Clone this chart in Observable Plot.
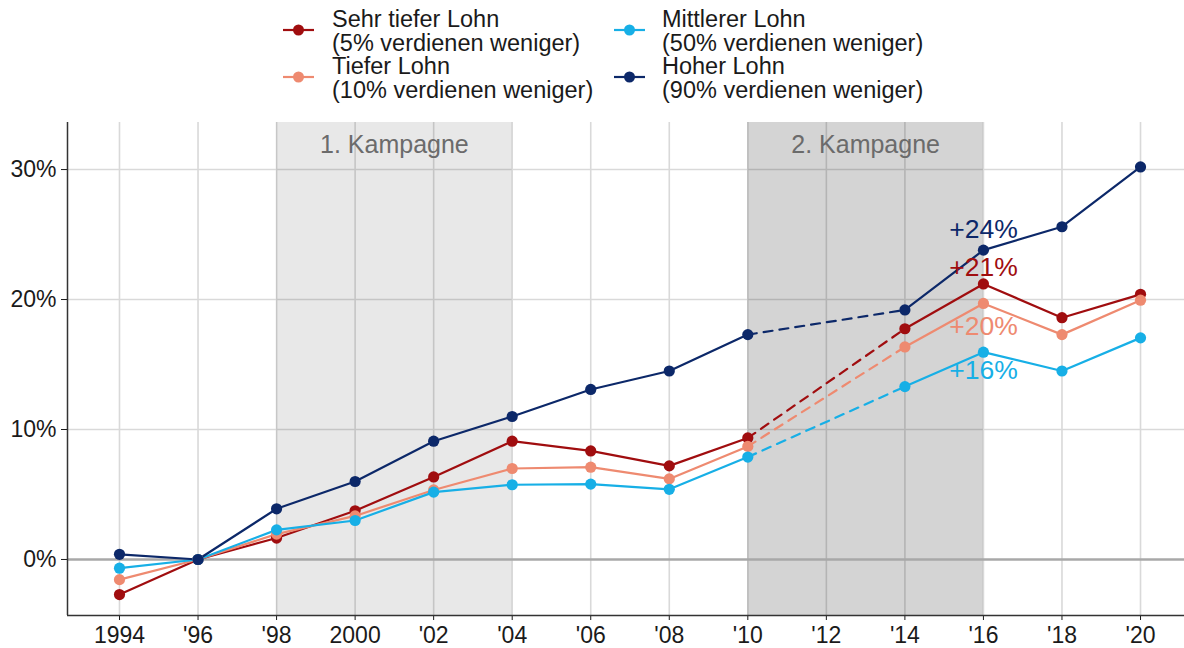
<!DOCTYPE html>
<html>
<head>
<meta charset="utf-8">
<script src="https://cdn.jsdelivr.net/npm/d3@7"></script>
<script src="https://cdn.jsdelivr.net/npm/@observablehq/plot@0.6"></script>
<style>
  html, body { margin: 0; padding: 0; background: #fff; }
  body { width: 1184px; height: 648px; overflow: hidden; position: relative; font-family: "Liberation Sans", Arial, sans-serif; }
  #legend { position: absolute; left: 0; top: 0; width: 1184px; height: 110px; }
  .lg-text { position: absolute; font-size: 23.5px; line-height: 23.5px; color: #1a1a1a; white-space: nowrap; }
  .lg-mark { position: absolute; }
  #chart { position: absolute; left: 0; top: 110px; }
</style>
</head>
<body>
<div id="legend"></div>
<div id="chart"></div>
<script>
// ---- data ----
const years = [1994, 1996, 1998, 2000, 2002, 2004, 2006, 2008, 2010, 2014, 2016, 2018, 2020];
const sehrTieferLohn = [-2.7, 0, 1.65, 3.75, 6.35, 9.1, 8.35, 7.2, 9.35, 17.75, 21.2, 18.6, 20.4];
const tieferLohn     = [-1.55, 0, 1.95, 3.35, 5.35, 7.0, 7.1, 6.2, 8.7, 16.35, 19.7, 17.3, 19.95];
const mittlererLohn  = [-0.67, 0, 2.28, 3.0, 5.18, 5.75, 5.8, 5.4, 7.88, 13.3, 15.95, 14.5, 17.05];
const hoherLohn      = [0.4, 0, 3.9, 6.0, 9.1, 11.0, 13.08, 14.5, 17.3, 19.2, 23.8, 25.6, 30.2];

const seriesNames = ["Sehr tiefer Lohn", "Tiefer Lohn", "Mittlerer Lohn", "Hoher Lohn"];
const seriesSub = ["(5% verdienen weniger)", "(10% verdienen weniger)", "(50% verdienen weniger)", "(90% verdienen weniger)"];
const seriesColors = ["#a00d0f", "#ee8a70", "#17afe6", "#0c2869"];
const seriesValues = [sehrTieferLohn, tieferLohn, mittlererLohn, hoherLohn];

const annotationText = ["+21%", "+20%", "+16%", "+24%"];
const annotationY = [22.5, 17.9, 14.5, 25.4];
const annotationYear = 2016;

const campaigns = [
  {label: "1. Kampagne", x1: 1998, x2: 2004, opacity: 0.09},
  {label: "2. Kampagne", x1: 2010, x2: 2016, opacity: 0.17}
];
const campaignLabelY = 31.9;

const xTicks = d3.range(1994, 2021, 2);
const yTicks = [0, 10, 20, 30];
const xDomain = [1992.676, 2021.12];
const yDomain = [-4.31, 33.62];

// ---- tidy rows ----
const rows = [];
seriesNames.forEach((name, i) => {
  years.forEach((yr, j) => {
    rows.push({series: name, idx: i, year: yr, value: seriesValues[i][j], seg: yr <= 2010 ? "a" : "b"});
  });
});
const dashedRows = rows.filter(d => d.year === 2010 || d.year === 2014);

const lineMarks = [];
const dotMarks = [];
seriesNames.forEach((name, i) => {
  const col = seriesColors[i];
  lineMarks.push(Plot.line(rows.filter(d => d.idx === i), {x: "year", y: "value", z: "seg", stroke: col, strokeWidth: 2.2}));
  lineMarks.push(Plot.line(dashedRows.filter(d => d.idx === i), {x: "year", y: "value", stroke: col, strokeWidth: 2.2, strokeDasharray: "9,7"}));
  dotMarks.push(Plot.dot(rows.filter(d => d.idx === i), {x: "year", y: "value", r: 5.6, fill: col, stroke: "none"}));
});

const annotations = seriesNames.map((name, i) => ({text: annotationText[i], y: annotationY[i], color: seriesColors[i]}));

const chart = Plot.plot({
  width: 1184,
  height: 538,
  marginTop: 12,
  marginBottom: 33,
  marginLeft: 67,
  marginRight: 0,
  style: {fontFamily: "'Liberation Sans', Arial, sans-serif", fontSize: "23px", color: "#1a1a1a", background: "white", overflow: "visible"},
  x: {domain: xDomain, ticks: xTicks, tickFormat: d => (d === 1994 || d === 2000) ? String(d) : "'" + String(d).slice(2), tickSize: 5, tickPadding: 6, label: null},
  y: {domain: yDomain, ticks: yTicks, tickFormat: d => d + "%", tickSize: 6, tickPadding: 5, label: null},
  marks: [
    Plot.ruleX(xTicks, {stroke: "#d9d9d9", strokeWidth: 1.6}),
    Plot.ruleY(yTicks.filter(d => d !== 0), {stroke: "#d9d9d9", strokeWidth: 1.6}),
    Plot.rect(campaigns, {x1: "x1", x2: "x2", y1: yDomain[0], y2: yDomain[1], fill: "black", fillOpacity: d => d.opacity}),
    Plot.ruleY([0], {stroke: "#a8a8a8", strokeWidth: 2.5}),
    Plot.text(campaigns, {x: d => (d.x1 + d.x2) / 2, y: () => campaignLabelY, text: "label", fill: "#6b6b6b", fontSize: 25}),
    ...lineMarks,
    ...dotMarks,
    Plot.text(annotations, {x: () => annotationYear, y: "y", text: "text", fill: "color", fontSize: 26.5}),
    Plot.ruleX([xDomain[0]], {stroke: "#333", strokeWidth: 1.5}),
    Plot.ruleY([yDomain[0]], {stroke: "#333", strokeWidth: 1.5})
  ]
});
document.getElementById("chart").appendChild(chart);

// ---- legend ----
const legend = document.getElementById("legend");
const legendCols = [{markX: 283, textX: 332}, {markX: 614, textX: 662}];
const legendRows = [{markY: 30, textTop: 8}, {markY: 77, textTop: 55}];
seriesNames.forEach((name, i) => {
  const col = legendCols[Math.floor(i / 2)];
  const row = legendRows[i % 2];
  const svgNS = "http://www.w3.org/2000/svg";
  const s = document.createElementNS(svgNS, "svg");
  s.setAttribute("width", 32); s.setAttribute("height", 14);
  s.setAttribute("class", "lg-mark");
  s.style.left = col.markX + "px"; s.style.top = (row.markY - 7) + "px";
  const ln = document.createElementNS(svgNS, "line");
  ln.setAttribute("x1", 0); ln.setAttribute("x2", 31); ln.setAttribute("y1", 7); ln.setAttribute("y2", 7);
  ln.setAttribute("stroke", seriesColors[i]); ln.setAttribute("stroke-width", 2.2);
  const c = document.createElementNS(svgNS, "circle");
  c.setAttribute("cx", 15.5); c.setAttribute("cy", 7); c.setAttribute("r", 5.5); c.setAttribute("fill", seriesColors[i]);
  s.appendChild(ln); s.appendChild(c);
  legend.appendChild(s);
  const t = document.createElement("div");
  t.className = "lg-text";
  t.style.left = col.textX + "px"; t.style.top = row.textTop + "px";
  t.innerHTML = name + "<br>" + seriesSub[i];
  legend.appendChild(t);
});
</script>
</body>
</html>
